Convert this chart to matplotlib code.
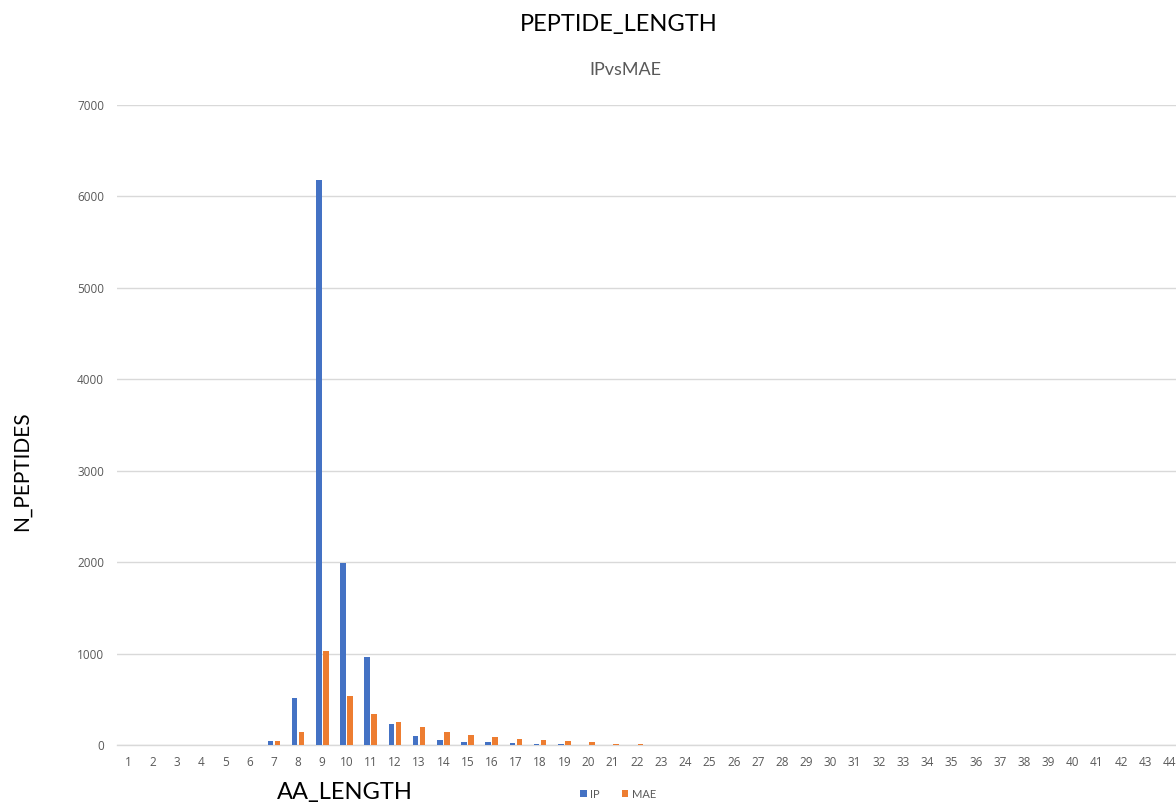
import numpy as np
import matplotlib
matplotlib.use("Agg")
import matplotlib.pyplot as plt

# peptide counts per amino-acid length
aa_length = list(range(1, 45))
ip_counts = [0, 0, 0, 0, 0, 0, 47, 514, 6180, 1995, 958, 230, 102, 55, 29, 30,
             18, 11, 11, 3, 2, 2] + [0] * 22
mae_counts = [0, 0, 0, 0, 0, 0, 40, 139, 1025, 540, 339, 255, 193, 146, 113, 88,
              69, 55, 40, 33, 15, 15] + [0] * 22
y_ticks = [0, 1000, 2000, 3000, 4000, 5000, 6000, 7000]

plt.rcParams['font.family'] = ['Lato', 'DejaVu Sans']
blue = '#4472c4'
orange = '#ed7d31'
grey = '#595959'

fig = plt.figure(figsize=(11.76, 8.06), dpi=100)
W, H = 1176., 806.
# plot area runs a little past the right edge of the canvas
ax = fig.add_axes([116.5 / W, (H - 745) / H, 1065 / W, 640 / H])

x = np.array(aa_length)
bw = 0.23
ax.bar(x - 0.145, ip_counts, bw, color=blue, label='IP', zorder=3)
ax.bar(x + 0.145, mae_counts, bw, color=orange, label='MAE', zorder=3)

ax.set_xlim(0.5, 44.5)
ax.set_ylim(0, 7000)
ax.set_xticks(x)
ax.set_xticklabels([str(v) for v in aa_length])
ax.set_yticks(y_ticks)
ax.tick_params(axis='x', length=0, pad=8, labelsize=8.5, colors=grey,
               labelfontfamily='Open Sans')
ax.tick_params(axis='y', length=0, pad=9, labelsize=8.5, colors=grey,
               labelfontfamily='Open Sans')
ax.grid(axis='y', color='#d9d9d9', linewidth=1, zorder=0)
for s in ['top', 'right', 'left']:
    ax.spines[s].set_visible(False)
ax.spines['bottom'].set_color('#d9d9d9')
ax.spines['bottom'].set_linewidth(1)

fig.text(619 / W, 1 - 25 / H, 'PEPTIDE_LENGTH', ha='center', va='center',
         fontsize=17, color='black')
fig.text(625 / W, 1 - 70 / H, 'IPvsMAE', ha='center', va='center',
         fontsize=13, color=grey)
fig.text(22 / W, 1 - 471 / H, 'N_PEPTIDES', ha='center', va='center',
         rotation=90, fontsize=15, color='black')
fig.text(345 / W, 1 - 793 / H, 'AA_LENGTH', ha='center', va='center',
         fontsize=17, color='black')

fig.legend(loc='center', bbox_to_anchor=(618 / W, 1 - 794 / H), ncol=2,
           frameon=False, fontsize=8, handlelength=0.6, handleheight=0.6,
           handletextpad=0.3, columnspacing=2.0, labelcolor=grey)

fig.savefig('out.png', dpi=100)
